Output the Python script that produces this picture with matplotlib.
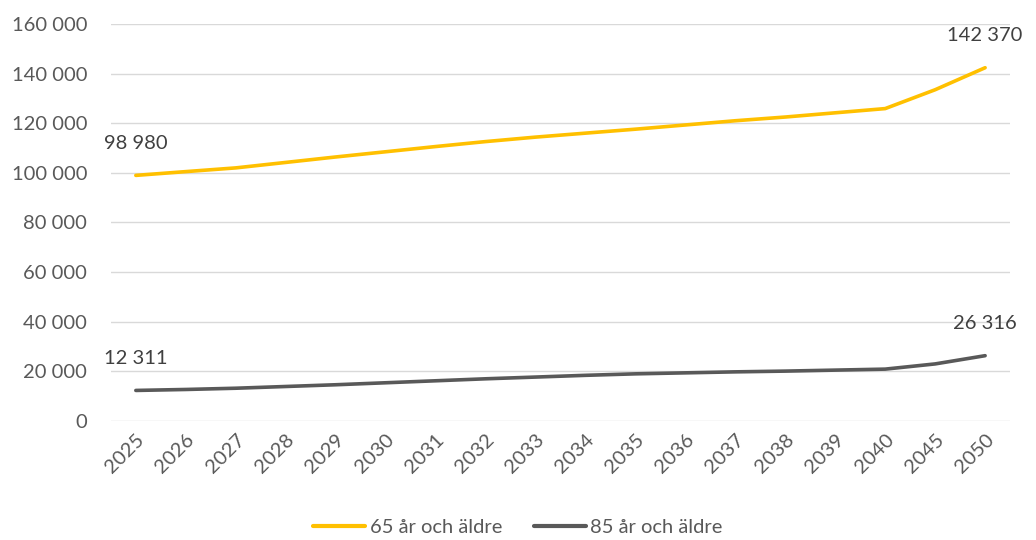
import matplotlib
matplotlib.use("Agg")
import matplotlib.pyplot as plt
from matplotlib.ticker import FuncFormatter

years = ["2025", "2026", "2027", "2028", "2029", "2030", "2031", "2032", "2033",
         "2034", "2035", "2036", "2037", "2038", "2039", "2040", "2045", "2050"]
age65 = [98980, 100500, 102000, 104200, 106400, 108500, 110600, 112600, 114400,
         116000, 117600, 119300, 121000, 122500, 124200, 125900, 133500, 142370]
age85 = [12311, 12700, 13200, 13900, 14600, 15400, 16200, 17000, 17700,
         18400, 19000, 19400, 19800, 20100, 20500, 20900, 23000, 26316]
series_names = ["65 år och äldre", "85 år och äldre"]
yticks = [0, 20000, 40000, 60000, 80000, 100000, 120000, 140000, 160000]

plt.rcParams['font.family'] = ['Lato', 'DejaVu Sans']
txt = "#404040"
fs = 14.5

fig = plt.figure(figsize=(10.36, 5.40), dpi=100)
ax = fig.add_axes([0.107, 0.2204, 0.868, 0.7352])
x = list(range(len(years)))
ax.plot(x, age65, color="#FFC000", lw=2.6, solid_capstyle="round", label=series_names[0])
ax.plot(x, age85, color="#595959", lw=2.6, solid_capstyle="round", label=series_names[1])

ax.set_xlim(-0.5, len(years) - 0.5)
ax.set_ylim(0, 160000)
ax.set_yticks(yticks)
ax.yaxis.set_major_formatter(FuncFormatter(lambda v, p: f"{int(v):,}".replace(",", " ")))
ax.set_xticks(x)
ax.set_xticklabels(years, rotation=45, ha="right", rotation_mode="anchor")
ax.grid(axis="y", color="#D9D9D9", lw=1)
ax.set_axisbelow(True)
for s in ax.spines.values():
    s.set_visible(False)
ax.tick_params(axis="both", length=0, labelsize=fs, labelcolor="#595959")
ax.tick_params(axis="y", pad=17)
ax.tick_params(axis="x", pad=7)

def fmt(v):
    return f"{v:,}".replace(",", " ")

for vals in (age65, age85):
    ax.annotate(fmt(vals[0]), (0, vals[0]), xytext=(0, 23), textcoords="offset points",
                ha="center", va="center", fontsize=fs, color=txt)
    ax.annotate(fmt(vals[-1]), (len(years) - 1, vals[-1]), xytext=(0, 23), textcoords="offset points",
                ha="center", va="center", fontsize=fs, color=txt)

leg = fig.legend(loc="center", bbox_to_anchor=(0.5, 0.024), ncol=2, frameon=False,
                 fontsize=fs, handlelength=2.6, columnspacing=1.6, handletextpad=0.2,
                 labelcolor="#595959")
for line in leg.get_lines():
    line.set_linewidth(3)

fig.savefig("out.png", dpi=100)
